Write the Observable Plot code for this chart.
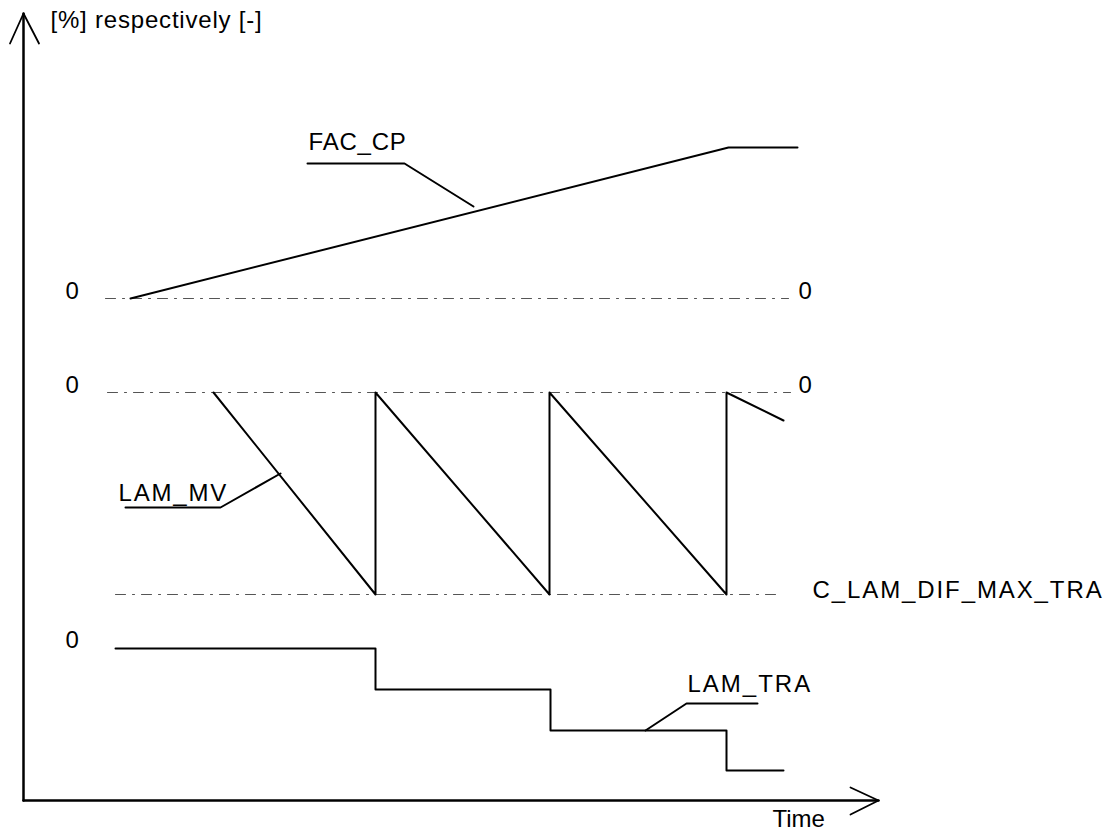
<!DOCTYPE html>
<html>
<head>
<meta charset="utf-8">
<script src="https://cdn.jsdelivr.net/npm/d3@7"></script>
<script src="https://cdn.jsdelivr.net/npm/@observablehq/plot@0.6"></script>
<style>
  html, body { margin: 0; padding: 0; background: #fff; }
  #chart svg { display: block; }
</style>
</head>
<body>
<div id="chart"></div>
<script>
// Time axis units (t) and value units (v) of the schematic
const facCp = [
  {t: 10.7, v: 50.2}, {t: 70.5, v: 65.3}, {t: 77.4, v: 65.3}
];
const lamMv = [
  {t: 19.0, v: 40.8}, {t: 35.2, v: 20.6}, {t: 35.2, v: 40.8},
  {t: 52.6, v: 20.6}, {t: 52.6, v: 40.8}, {t: 70.3, v: 20.6},
  {t: 70.3, v: 40.8}, {t: 76.0, v: 38.0}
];
const lamTra = [
  {t: 9.2, v: 15.2}, {t: 35.2, v: 15.2}, {t: 35.2, v: 11.1},
  {t: 52.7, v: 11.1}, {t: 52.7, v: 7.0}, {t: 70.3, v: 7.0},
  {t: 70.3, v: 3.0}, {t: 76.0, v: 3.0}
];
// reference (dash-dot) lines
const refLines = [
  {name: "zeroFac", t1: 8.2, t2: 76.5, v: 50.2},
  {name: "zeroMv", t1: 8.4, t2: 76.7, v: 40.8},
  {name: "difMax", t1: 9.2, t2: 75.7, v: 20.6}
];
// leader lines from labels to curves
const leaderFac = [{t: 28.4, v: 63.7}, {t: 38.1, v: 63.7}, {t: 45.0, v: 59.4}];
const leaderMv = [{t: 10.2, v: 29.3}, {t: 19.7, v: 29.3}, {t: 25.7, v: 32.7}];
const leaderTra = [{t: 73.4, v: 9.7}, {t: 66.3, v: 9.7}, {t: 62.2, v: 7.0}];
// axes
const yAxisLine = [{t: 0, v: 0}, {t: 0, v: 78.7}];
const xAxisLine = [{t: 0, v: 0}, {t: 85.5, v: 0}];
const yArrow = [{t: -1.35, v: 75.7}, {t: 0, v: 78.7}, {t: 1.55, v: 75.7}];
const xArrow = [{t: 82.7, v: 1.3}, {t: 85.5, v: 0}, {t: 82.7, v: -1.4}];
// texts
const labels = [
  {t: 2.7, v: 78.0, text: "[%] respectively [-]", sp: 0.8},
  {t: 28.5, v: 65.8, text: "FAC_CP", sp: 0.8},
  {t: 9.5, v: 30.7, text: "LAM_MV", sp: 1.8},
  {t: 66.4, v: 11.6, text: "LAM_TRA", sp: 2.0},
  {t: 78.9, v: 21.0, text: "C_LAM_DIF_MAX_TRA", sp: 1.9},
  {t: 74.9, v: -1.9, text: "Time", sp: 0},
  {t: 4.2, v: 50.9, text: "0", sp: 0},
  {t: 77.5, v: 50.9, text: "0", sp: 0},
  {t: 4.2, v: 41.5, text: "0", sp: 0},
  {t: 77.5, v: 41.5, text: "0", sp: 0},
  {t: 4.2, v: 16.0, text: "0", sp: 0}
];

const font = "Liberation Sans, Arial, sans-serif";

const chart = Plot.plot({
  width: 1112,
  height: 835,
  margin: 0,
  style: {background: "#fff", fontFamily: font},
  x: {domain: [-2.3, 108.9], range: [0, 1112], axis: null},
  y: {domain: [-3.5, 80], range: [835, 0], axis: null},
  marks: [
    ...refLines.map(r => Plot.line([{t: r.t1, v: r.v}, {t: r.t2, v: r.v}], {
      x: "t", y: "v", stroke: "#555", strokeWidth: 1.1, strokeDasharray: "10,7,2,7"
    })),
    Plot.line(yAxisLine, {x: "t", y: "v", stroke: "#000", strokeWidth: 2.5}),
    Plot.line(xAxisLine, {x: "t", y: "v", stroke: "#000", strokeWidth: 2.5}),
    Plot.line(yArrow, {x: "t", y: "v", stroke: "#000", strokeWidth: 1.8}),
    Plot.line(xArrow, {x: "t", y: "v", stroke: "#000", strokeWidth: 1.8}),
    Plot.line(facCp, {x: "t", y: "v", stroke: "#000", strokeWidth: 2}),
    Plot.line(lamMv, {x: "t", y: "v", stroke: "#000", strokeWidth: 2}),
    Plot.line(lamTra, {x: "t", y: "v", stroke: "#000", strokeWidth: 2}),
    Plot.line(leaderFac, {x: "t", y: "v", stroke: "#000", strokeWidth: 2}),
    Plot.line(leaderMv, {x: "t", y: "v", stroke: "#000", strokeWidth: 2}),
    Plot.line(leaderTra, {x: "t", y: "v", stroke: "#000", strokeWidth: 2}),
    ...labels.map(l => Plot.text([l], {
      x: "t", y: "v", text: "text", textAnchor: "start", lineAnchor: "middle",
      fontSize: 24, fill: "#000", fontFamily: font,
      render: (index, scales, values, dims, ctx, next) => {
        const g = next(index, scales, values, dims, ctx);
        g.setAttribute("letter-spacing", l.sp + "px");
        return g;
      }
    }))
  ]
});
document.getElementById("chart").appendChild(chart);
</script>
</body>
</html>
